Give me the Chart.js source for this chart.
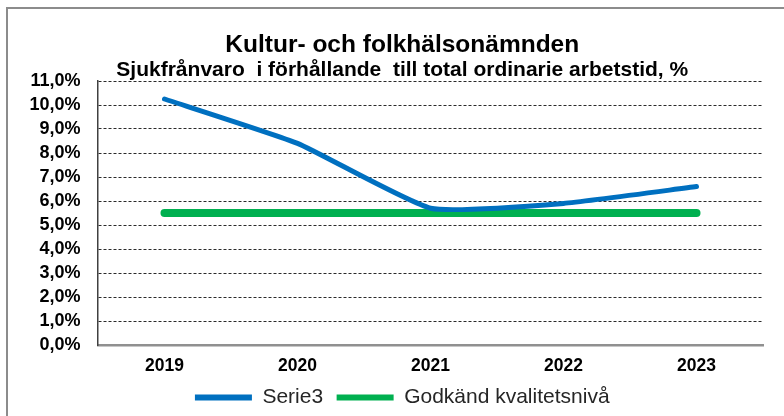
<!DOCTYPE html>
<html lang="sv">
<head>
<meta charset="utf-8">
<title>Kultur- och folkhälsonämnden</title>
<script src="https://cdn.jsdelivr.net/npm/chart.js@4.4.1/dist/chart.umd.min.js"></script>
<style>
  html, body { margin: 0; padding: 0; background: #fff; overflow: hidden; }
  body { width: 784px; height: 416px; position: relative; }
  #ram { position: absolute; left: 6px; top: 7px; width: 820px; height: 440px; border: 2px solid #8c8c8c; }
  #ruta { position: absolute; left: 9px; top: 10px; width: 784px; height: 408px; }
</style>
</head>
<body>
<div id="ram"></div>
<div id="ruta"><canvas id="graf"></canvas></div>
<script>
const ar = ["2019", "2020", "2021", "2022", "2023"];
const serie3 = [10.25, 8.4, 5.7, 5.9, 6.6];
const godkand = [5.5, 5.5, 5.5, 5.5, 5.5];
const yEtiketter = ["0,0%", "1,0%", "2,0%", "3,0%", "4,0%", "5,0%", "6,0%", "7,0%", "8,0%", "9,0%", "10,0%", "11,0%"];

const typsnitt = "'Liberation Sans', Arial, sans-serif";

const ctx = document.getElementById("graf").getContext("2d");
window.graf = new Chart(ctx, {
    type: "line",
    data: {
        labels: ar,
        datasets: [{
            label: "Serie3",
            data: serie3,
            borderColor: "#0070c0",
            backgroundColor: "#0070c0",
            borderWidth: 5,
            borderCapStyle: "round",
            pointRadius: 0,
            tension: 0.15
        }, {
            label: "Godkänd kvalitetsnivå",
            data: godkand,
            borderColor: "#00b050",
            backgroundColor: "#00b050",
            borderWidth: 8,
            borderCapStyle: "round",
            pointRadius: 0
        }]
    },
    options: {
        responsive: true,
        maintainAspectRatio: false,
        animation: false,
        layout: {
            padding: { left: 20.5, right: 18, top: 0, bottom: 0 }
        },
        plugins: {
            tooltip: { enabled: false },
            title: {
                display: true,
                text: "Kultur- och folkhälsonämnden",
                color: "#000",
                font: { family: typsnitt, size: 24.5, weight: "bold", lineHeight: 1 },
                padding: { top: 23, bottom: 0 }
            },
            subtitle: {
                display: true,
                text: "Sjukfrånvaro  i förhållande  till total ordinarie arbetstid, %",
                color: "#000",
                font: { family: typsnitt, size: 21, weight: "bold", lineHeight: 1 },
                padding: { top: 1.75, bottom: 0.75 }
            },
            legend: {
                position: "bottom",
                labels: {
                    color: "#262626",
                    font: { family: typsnitt, size: 21 },
                    boxWidth: 57,
                    boxHeight: 6,
                    padding: 13.5,
                    useBorderRadius: true,
                    borderRadius: 3,
                    generateLabels: function (chart) {
                        return chart.data.datasets.map(function (ds, i) {
                            return {
                                text: ds.label,
                                fillStyle: ds.borderColor,
                                strokeStyle: ds.borderColor,
                                lineWidth: 0,
                                fontColor: "#262626",
                                datasetIndex: i
                            };
                        });
                    }
                }
            }
        },
        scales: {
            x: {
                offset: true,
                grid: { display: false, drawTicks: false },
                border: { display: true, color: "#909090", width: 2.5 },
                ticks: {
                    color: "#000",
                    padding: 11,
                    font: { family: typsnitt, size: 17.5, weight: "bold" }
                },
                afterFit: function (scale) {
                    scale.height = 28.5;
                }
            },
            y: {
                min: 0,
                max: 11,
                grid: {
                    drawTicks: false,
                    lineWidth: 1,
                    color: function (c) {
                        return c.tick && c.tick.value === 0 ? "rgba(0,0,0,0)" : "#2a2a2a";
                    }
                },
                border: { display: true, color: "#404040", width: 1.5, dash: [3, 2] },
                ticks: {
                    stepSize: 1,
                    autoSkip: false,
                    color: "#000",
                    padding: 17.5,
                    font: { family: typsnitt, size: 18, weight: "bold" },
                    callback: function (value, index) {
                        return yEtiketter[index];
                    }
                },
                afterFit: function (scale) {
                    scale.width = 68.5;
                }
            },
            // tom axel till höger, bara för att rubriker och förklaring ska hamna i mitten
            hoger: {
                position: "right",
                grid: { display: false, drawTicks: false },
                border: { display: false },
                ticks: { display: false },
                afterFit: function (scale) {
                    scale.width = 12;
                }
            }
        }
    }
});
</script>
</body>
</html>
